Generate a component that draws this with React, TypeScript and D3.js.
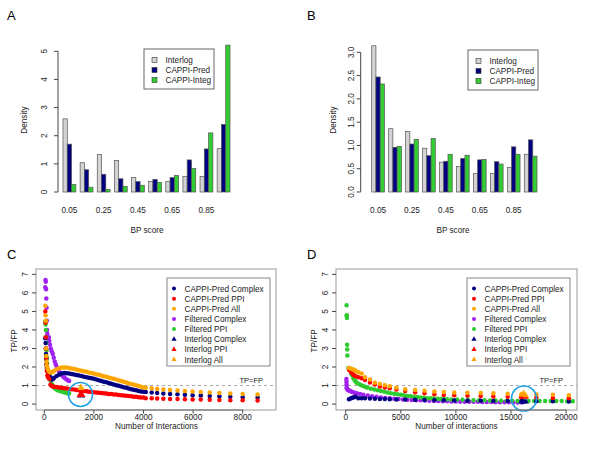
import * as d3 from "d3";

const FONT = "'Liberation Sans', Arial, Helvetica, sans-serif";

// ---- panels A / B : BP score histograms ----
const bpGroups = ["0.05", "0.15", "0.25", "0.35", "0.45", "0.55", "0.65", "0.75", "0.85", "0.95"];
const bpShown = ["0.05", "0.25", "0.45", "0.65", "0.85"];
const barSeries = ["Interlog", "CAPPI-Pred", "CAPPI-Integ"];
const barColors = ["#d3d3d3", "#000080", "#32cd32"];

const aInterlog = [2.6, 1.04, 1.33, 1.12, 0.51, 0.38, 0.38, 0.55, 0.55, 1.54];
const aPred = [1.7, 0.79, 0.63, 0.47, 0.37, 0.45, 0.51, 1.14, 1.53, 2.4];
const aInteg = [0.27, 0.17, 0.09, 0.2, 0.24, 0.34, 0.59, 0.83, 2.1, 5.22];
const aTicks = [0, 1, 2, 3, 4, 5];

const bInterlog = [3.14, 1.36, 1.3, 0.94, 0.64, 0.55, 0.4, 0.4, 0.53, 0.81];
const bPred = [2.47, 0.96, 1.03, 0.78, 0.66, 0.72, 0.69, 0.65, 0.97, 1.12];
const bInteg = [2.32, 0.98, 1.13, 1.15, 0.81, 0.79, 0.7, 0.6, 0.81, 0.77];
const bTicks = [0, 0.5, 1, 1.5, 2, 2.5, 3];

// ---- panels C / D : TP/FP vs number of interactions ----
const tpTicks = [0, 1, 2, 3, 4, 5, 6, 7];
const cTicks = [0, 2000, 4000, 6000, 8000];
const dTicks = [0, 5000, 10000, 15000, 20000];

const cPredX = [40, 50, 60, 70, 80, 90, 100, 125, 150, 200, 250, 300, 350, 400,
  500, 600, 700, 800, 900, 1000, 1100, 1200, 1300, 1400, 1500, 1600, 1700, 1800, 1900, 2000,
  2100, 2200, 2300, 2400, 2500, 2600, 2700, 2800, 2900, 3000, 3100, 3200, 3300, 3400, 3500,
  3600, 3700, 3800, 3900, 4000,
  4090, 4330, 4550, 4800, 5070, 5370, 5670, 5980, 6310, 6670, 7060, 7500, 8000, 8600];
const cPredComplex = [3.55, 3.3, 3.0, 2.7, 2.4, 2.15, 1.95, 1.85, 1.75, 1.55, 1.42, 1.33, 1.35, 1.42,
  1.52, 1.6, 1.65, 1.68, 1.67, 1.65, 1.62, 1.6, 1.57, 1.54, 1.51, 1.48, 1.45, 1.42, 1.39, 1.36,
  1.32, 1.29, 1.25, 1.21, 1.18, 1.14, 1.1, 1.06, 1.02, 0.99, 0.95, 0.91, 0.88, 0.84, 0.8,
  0.77, 0.74, 0.71, 0.68, 0.66,
  0.65, 0.62, 0.6, 0.57, 0.55, 0.53, 0.5, 0.48, 0.46, 0.44, 0.42, 0.4, 0.37, 0.35];
const cPredPPI = [5.0, 4.4, 3.6, 3.0, 2.5, 2.1, 1.8, 1.55, 1.45, 1.35, 1.05, 0.97, 0.95, 0.94,
  0.92, 0.9, 0.88, 0.86, 0.84, 0.82, 0.8, 0.78, 0.76, 0.74, 0.72, 0.7, 0.69, 0.67, 0.66, 0.64,
  0.63, 0.61, 0.6, 0.58, 0.57, 0.55, 0.54, 0.52, 0.51, 0.49, 0.48, 0.46, 0.45, 0.43, 0.42,
  0.4, 0.39, 0.37, 0.36, 0.35,
  0.32, 0.31, 0.3, 0.29, 0.28, 0.27, 0.26, 0.25, 0.24, 0.23, 0.22, 0.21, 0.2, 0.19];
const cPredAll = [5.3, 4.8, 4.5, 3.0, 2.6, 2.3, 2.1, 1.95, 1.85, 1.75, 1.7, 1.7, 1.75, 1.8,
  1.88, 1.93, 1.97, 1.98, 1.97, 1.95, 1.92, 1.89, 1.86, 1.83, 1.8, 1.77, 1.74, 1.71, 1.68, 1.65,
  1.61, 1.58, 1.54, 1.5, 1.47, 1.43, 1.4, 1.36, 1.33, 1.29, 1.25, 1.21, 1.17, 1.13, 1.09,
  1.05, 1.01, 0.97, 0.93, 0.9,
  0.88, 0.85, 0.82, 0.79, 0.76, 0.73, 0.7, 0.68, 0.65, 0.62, 0.6, 0.57, 0.54, 0.52];

const cFiltX = [40, 50, 60, 70, 80, 90, 100, 110, 120, 140, 160, 180, 200, 230, 260, 300, 340,
  380, 420, 460, 500, 550, 600, 650, 700, 750, 800, 850, 900, 950, 1000];
const cFiltComplex = [6.3, 6.7, 6.6, 6.2, 5.7, 5.2, 4.5, 4.0, 3.8, 3.6, 3.55, 3.6, 3.4, 3.2, 3.0,
  2.85, 2.7, 2.5, 2.3, 2.15, 2.0, 1.85, 1.75, 1.65, 1.57, 1.5, 1.44, 1.38, 1.32, 1.28, 1.25];
const cFiltPPI = [4.45, 4.3, 4.0, 3.6, 3.3, 2.9, 2.5, 2.2, 1.9, 1.75, 1.65, 1.7, 1.55, 1.4, 1.25,
  1.1, 1.0, 0.92, 0.86, 0.82, 0.78, 0.75, 0.72, 0.7, 0.68, 0.66, 0.64, 0.62, 0.6, 0.58, 0.57];

const cInterX = [1480];
const cInterComplex = [0.48];
const cInterPPI = [0.52];
const cInterAll = [0.88];

const dPredX = [300, 450, 600, 750, 900, 1150, 1450, 1750, 2200, 2650, 3100, 3550, 4000, 4600,
  5400, 6300, 7150, 8050, 8900, 9850, 11050, 12250, 13400, 14700, 15950, 17300, 18800, 20250];
const dPredComplex = [0.26, 0.3, 0.34, 0.37, 0.4, 0.32, 0.32, 0.31, 0.3, 0.29, 0.28, 0.27, 0.26,
  0.25, 0.24, 0.23, 0.22, 0.21, 0.2, 0.19, 0.18, 0.18, 0.17, 0.16, 0.16, 0.15, 0.15, 0.14];
const dPredPPI = [1.85, 1.75, 1.65, 1.55, 1.5, 1.45, 1.4, 1.3, 1.17, 1.05, 0.95, 0.9, 0.85, 0.78,
  0.7, 0.64, 0.58, 0.53, 0.49, 0.47, 0.45, 0.43, 0.41, 0.4, 0.37, 0.35, 0.33, 0.32];
const dPredAll = [1.95, 1.92, 1.88, 1.85, 1.8, 1.72, 1.65, 1.45, 1.33, 1.15, 1.08, 1.02, 0.96, 0.88,
  0.8, 0.76, 0.72, 0.68, 0.65, 0.63, 0.61, 0.6, 0.58, 0.56, 0.53, 0.51, 0.5, 0.48];

const dFiltComplexX = [60, 70, 80, 90, 100, 150, 200, 300, 400, 500, 600, 800, 1000, 1300, 1600,
  2000, 2400, 2800, 3200, 3600, 4000, 4400, 4800, 5200, 5600, 6000, 6400, 6800, 7200, 7600, 8000,
  8400, 8800, 9200, 9600, 10000, 10400, 10800, 11200, 11600, 12000, 12400, 12800, 13200, 13600,
  14000, 14400, 14800, 15200, 15600, 16000];
const dFiltComplex = [1.35, 1.2, 1.05, 0.9, 0.85, 0.8, 0.76, 0.73, 0.7, 0.68, 0.65, 0.61, 0.58,
  0.54, 0.5, 0.46, 0.42, 0.39, 0.36, 0.33, 0.31, 0.29, 0.27, 0.25, 0.23, 0.22, 0.21, 0.2, 0.19,
  0.18, 0.17, 0.16, 0.15, 0.15, 0.14, 0.14, 0.13, 0.13, 0.12, 0.12, 0.12, 0.11, 0.11, 0.11, 0.1,
  0.1, 0.1, 0.1, 0.09, 0.09, 0.09];
const dFiltPPIX = [80, 90, 100, 110, 130, 140, 150, 250, 350, 500, 600, 700, 800, 900, 1000, 1200,
  1400, 1600, 1800, 2000, 2300, 2600, 2900, 3200, 3500, 3800, 4100, 4400, 4700, 5000, 5300, 5600,
  5900, 6200, 6500, 6800, 7100, 7400, 7700, 8000, 8300, 8600, 8900, 9200, 9600, 10100, 10600,
  11100, 11600, 12100, 12600, 13100, 13600, 14100, 14600, 15100, 15600, 16100, 16600, 17100,
  17600, 18100, 18600, 19100, 19600, 20100, 20600];
const dFiltPPI = [5.33, 4.8, 4.75, 4.65, 3.2, 2.95, 2.62, 1.95, 1.85, 1.65, 1.55, 1.4, 1.3, 1.22,
  1.15, 1.08, 1.02, 0.97, 0.92, 0.88, 0.83, 0.78, 0.74, 0.7, 0.66, 0.62, 0.59, 0.56, 0.53, 0.5,
  0.47, 0.44, 0.42, 0.4, 0.38, 0.36, 0.34, 0.32, 0.31, 0.3, 0.29, 0.28, 0.27, 0.26, 0.25, 0.24,
  0.23, 0.22, 0.21, 0.2, 0.2, 0.19, 0.19, 0.18, 0.18, 0.18, 0.17, 0.17, 0.17, 0.17, 0.16, 0.16,
  0.16, 0.16, 0.16, 0.15, 0.15];

const dInterX = [15950, 16150, 16350];
const dInterComplex = [0.12, 0.13, 0.12];
const dInterPPI = [0.4, 0.44, 0.38];
const dInterAll = [0.5, 0.6, 0.46];

const legendNames = ["CAPPI-Pred Complex", "CAPPI-Pred PPI", "CAPPI-Pred All", "Filtered Complex",
  "Filtered PPI", "Interlog Complex", "Interlog PPI", "Interlog All"];
const NAVY = "#000080", RED = "#ff0000", ORANGE = "#ffa500", PURPLE = "#a020f0", GREEN = "#2ecb2e";
const legendColors = [NAVY, RED, ORANGE, PURPLE, GREEN, NAVY, RED, ORANGE];
const legendShapes = ["c", "c", "c", "c", "c", "t", "t", "t"];

const TXT = "#222";

function BarPanel(props: any) {
  const { x0, x1, yTop, yMax, ticks, fmt, data, axisX, tickLabX, densX, letterX, legX, legY, titleX } = props;
  const y = d3.scaleLinear().domain([0, yMax]).range([192, yTop]);
  const gx = d3.scaleBand().domain(bpGroups).range([x0, x1]).paddingInner(0.25).paddingOuter(0);
  const bx = d3.scaleBand().domain(barSeries).range([0, gx.bandwidth()]);
  return (
    <g>
      <text x={letterX} y={19.5} fontSize={13}>{props.letter}</text>
      {barSeries.map((s, si) =>
        data[si].map((v: number, gi: number) => (
          <rect key={s + gi} x={(gx(bpGroups[gi]) as number) + (bx(s) as number)} y={y(v)}
            width={bx.bandwidth()} height={y(0) - y(v)} fill={barColors[si]} stroke="#555" strokeWidth={0.7} />
        ))
      )}
      <line x1={axisX} x2={axisX} y1={y(0)} y2={y(ticks[ticks.length - 1])} stroke="#444" />
      {ticks.map((t: number) => (
        <g key={t}>
          <line x1={axisX - 4} x2={axisX} y1={y(t)} y2={y(t)} stroke="#444" />
          <text transform={`translate(${tickLabX},${y(t)}) rotate(-90)`} textAnchor="middle" fontSize={8.2} fill={TXT}>{fmt(t)}</text>
        </g>
      ))}
      <text transform={`translate(${densX},120) rotate(-90)`} textAnchor="middle" fontSize={8.2} fill={TXT}>Density</text>
      {bpShown.map((g) => (
        <text key={g} x={(gx(g) as number) + gx.bandwidth() / 2} y={213} textAnchor="middle" fontSize={8.2} fill={TXT}>{g}</text>
      ))}
      <text x={titleX} y={233} textAnchor="middle" fontSize={8.2} fill={TXT}>BP score</text>
      <rect x={legX} y={legY} width={70} height={40} fill="#fff" stroke="#666" />
      {barSeries.map((s, i) => (
        <g key={s}>
          <rect x={legX + 8} y={legY + 8.5 + i * 10} width={5} height={5} fill={barColors[i]} stroke="#333" strokeWidth={0.6} />
          <text x={legX + 21.5} y={legY + 14 + i * 10} fontSize={8.2} fill={TXT}>{s}</text>
        </g>
      ))}
    </g>
  );
}

const tri = (size: number) => d3.symbol().type(d3.symbolTriangle).size(size)() as string;

function ScatterPanel(props: any) {
  const { letter, letterX, xDomain, xRange, xTicks, xLabel, xLabelX, series, ring, legX, yLabX, tpX, tpfpX } = props;
  const x = d3.scaleLinear().domain(xDomain).range(xRange);
  const y = d3.scaleLinear().domain([-0.32, 7.29]).range([410, 269]);
  const [L, R] = xRange;
  return (
    <g>
      <text x={letterX} y={259} fontSize={13}>{letter}</text>
      <line x1={L} x2={R} y1={y(1)} y2={y(1)} stroke="#aaa" strokeDasharray="3,3" />
      <text x={tpfpX} y={383} textAnchor="end" fontSize={7.5} fill={TXT}>TP=FP</text>
      {series.map((s: any, si: number) =>
        s.xs.map((xv: number, i: number) =>
          s.shape === "c" ? (
            <circle key={si + "-" + i} cx={x(xv)} cy={y(s.ys[i])} r={2.25} fill={s.color} />
          ) : (
            <path key={si + "-" + i} d={tri(s.size)} transform={`translate(${x(xv)},${y(s.ys[i])})`} fill={s.color} />
          )
        )
      )}
      <circle cx={x(ring.x)} cy={y(ring.y)} r={ring.r} fill="none" stroke="#1ea0e4" strokeWidth={1.6} />
      <rect x={L} y={269} width={R - L} height={141} fill="none" stroke="#999" />
      {xTicks.map((t: number) => (
        <g key={t}>
          <line x1={x(t)} x2={x(t)} y1={410} y2={413.5} stroke="#444" />
          <text x={x(t)} y={420} textAnchor="middle" fontSize={8.2} fill={TXT}>{t}</text>
        </g>
      ))}
      <line x1={x(xTicks[0])} x2={x(xTicks[xTicks.length - 1])} y1={410} y2={410} stroke="#666" />
      {tpTicks.map((t) => (
        <g key={t}>
          <line x1={L - 4} x2={L} y1={y(t)} y2={y(t)} stroke="#444" />
          <text transform={`translate(${yLabX},${y(t)}) rotate(-90)`} textAnchor="middle" fontSize={8.2} fill={TXT}>{t}</text>
        </g>
      ))}
      <text x={xLabelX} y={429} textAnchor="middle" fontSize={8.2} fill={TXT}>{xLabel}</text>
      <text transform={`translate(${tpX},341) rotate(-90)`} textAnchor="middle" fontSize={8.2} fill={TXT}>TP/FP</text>
      <rect x={legX} y={278} width={103} height={88} fill="#fff" stroke="#999" strokeWidth={1.2} />
      {legendNames.map((n, i) => (
        <g key={n}>
          {legendShapes[i] === "c" ? (
            <circle cx={legX + 7} cy={288.5 + i * 10.15} r={2} fill={legendColors[i]} />
          ) : (
            <path d={tri(12)} transform={`translate(${legX + 7},${288.5 + i * 10.15})`} fill={legendColors[i]} />
          )}
          <text x={legX + 17.5} y={291.5 + i * 10.15} fontSize={8.2} fill={TXT}>{n}</text>
        </g>
      ))}
    </g>
  );
}

export default function App() {
  const cSeries = [
    { xs: cFiltX, ys: cFiltComplex, color: PURPLE, shape: "c" },
    { xs: cFiltX, ys: cFiltPPI, color: GREEN, shape: "c" },
    { xs: cPredX, ys: cPredComplex, color: NAVY, shape: "c" },
    { xs: cPredX, ys: cPredPPI, color: RED, shape: "c" },
    { xs: cPredX, ys: cPredAll, color: ORANGE, shape: "c" },
    { xs: cInterX, ys: cInterComplex, color: NAVY, shape: "t", size: 30 },
    { xs: cInterX, ys: cInterPPI, color: RED, shape: "t", size: 34 },
    { xs: cInterX, ys: cInterAll, color: ORANGE, shape: "t", size: 24 },
  ];
  const dSeries = [
    { xs: dFiltComplexX, ys: dFiltComplex, color: PURPLE, shape: "c" },
    { xs: dFiltPPIX, ys: dFiltPPI, color: GREEN, shape: "c" },
    { xs: dPredX, ys: dPredComplex, color: NAVY, shape: "c" },
    { xs: dPredX, ys: dPredPPI, color: RED, shape: "c" },
    { xs: dPredX, ys: dPredAll, color: ORANGE, shape: "c" },
    { xs: dInterX, ys: dInterComplex, color: NAVY, shape: "t", size: 16 },
    { xs: dInterX, ys: dInterPPI, color: RED, shape: "t", size: 16 },
    { xs: dInterX, ys: dInterAll, color: ORANGE, shape: "t", size: 16 },
  ];
  return (
    <svg width={600} height={450} style={{ position: "absolute", left: 0, top: 0 }} fontFamily={FONT}>
      <rect width={600} height={450} fill="#fff" />
      <BarPanel letter="A" letterX={7} x0={63} x1={230} yTop={51.3} yMax={5} ticks={aTicks}
        fmt={(t: number) => String(t)} data={[aInterlog, aPred, aInteg]} axisX={58} tickLabX={47}
        densX={27} legX={144} legY={49} titleX={147} />
      <BarPanel letter="B" letterX={307} x0={371.7} x1={537} yTop={52.3} yMax={3} ticks={bTicks}
        fmt={d3.format(".1f")} data={[bInterlog, bPred, bInteg]} axisX={360.7} tickLabX={354}
        densX={335.5} legX={468} legY={50} titleX={453} />
      <ScatterPanel letter="C" letterX={7} xDomain={[-335, 9343]} xRange={[36, 276]} xTicks={cTicks}
        xLabel="Number of Interactions" xLabelX={156.5} series={cSeries} ring={{ x: 1460, y: 0.52, r: 12 }}
        legX={167} yLabX={28} tpX={17} tpfpX={263} />
      <ScatterPanel letter="D" letterX={307} xDomain={[-880, 20990]} xRange={[336, 577]} xTicks={dTicks}
        xLabel="Number of interactions" xLabelX={456.5} series={dSeries} ring={{ x: 16180, y: 0.3, r: 12.5 }}
        legX={467} yLabX={328} tpX={317} tpfpX={563} />
    </svg>
  );
}
